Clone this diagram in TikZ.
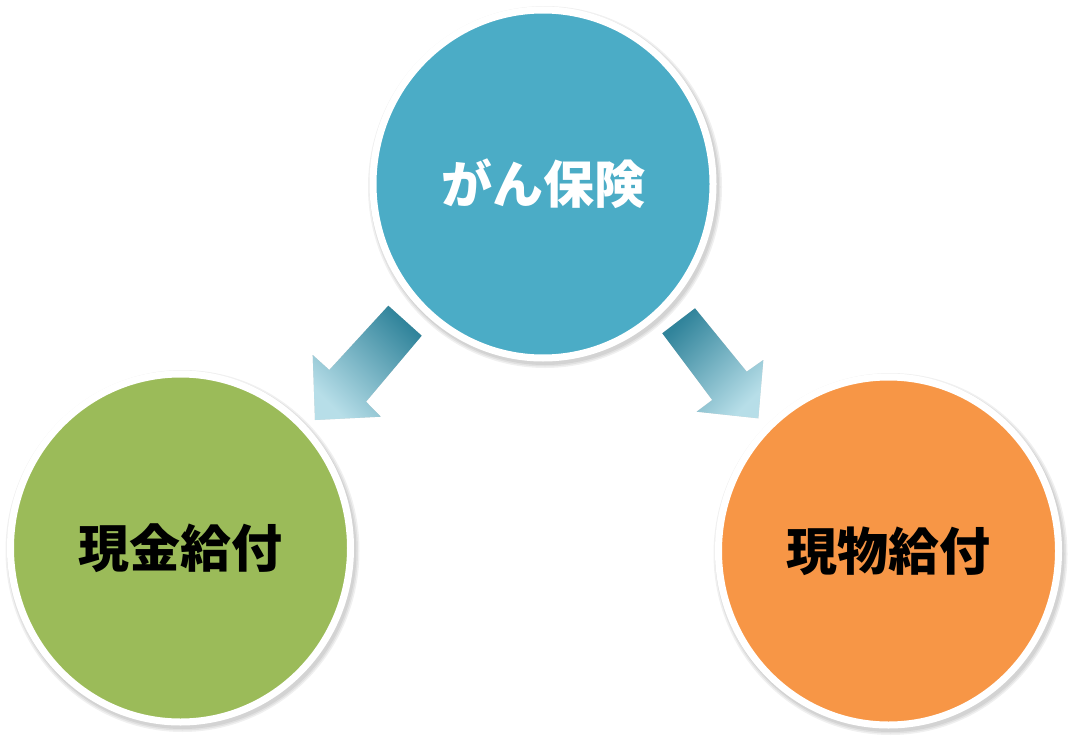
\documentclass[tikz,border=0pt]{standalone}
\usepackage{fontspec}
\newfontfamily\jp{Noto Sans CJK JP}
\usetikzlibrary{shapes.geometric}
\definecolor{aqua}{HTML}{4BACC6}
\definecolor{leaf}{HTML}{9BBB59}
\definecolor{tang}{HTML}{F79646}
\definecolor{arrdark}{HTML}{31849B}
\definecolor{arrlight}{HTML}{B7DEE8}
\tikzset{
  bubble/.style={ellipse, draw=white, line width=7pt, minimum width=340pt, minimum height=348pt, inner sep=0pt,
    font=\jp\bfseries\fontsize{51}{51}\selectfont},
  softshadow/.style={fill=black, fill opacity=0.06, draw=none},
  blockarrow/.style={draw=none},
  arrshadow/.style={fill=black, fill opacity=0.18, draw=none},
}
\begin{document}
\begin{tikzpicture}[x=1pt,y=-1pt]
\fill[white] (0,0) rectangle (1070,741);
\useasboundingbox (0,0) rectangle (1070,741);
% circle shadows
\foreach \cx/\cy in {543/184, 180.5/548, 888.5/551}{
  \foreach \d in {0,1.5,3}{
    \fill[softshadow] (\cx+2,\cy+3) ellipse [x radius=174+\d, y radius=178+\d];
  }
}
% circles
\node[bubble, fill=aqua, text=white] (top) at (543,184) {\raisebox{-3pt}{がん保険}};
\node[bubble, fill=leaf, text=black] (left) at (180.5,548) {\raisebox{-3pt}{現金給付}};
\node[bubble, fill=tang, text=black] (right) at (888.5,551) {\raisebox{-3pt}{現物給付}};
% left block arrow
\coordinate (la1) at (388.3,305.7);
\coordinate (la2) at (421.7,335.7);
\coordinate (la3) at (366,401.7);
\coordinate (la4) at (380.7,416.7);
\coordinate (la5) at (315,420);
\coordinate (la6) at (312.7,355);
\coordinate (la7) at (329.3,370);
\fill[arrshadow, shift={(1.5pt,-2.5pt)}] (la1) -- (la2) -- (la3) -- (la4) -- (la5) -- (la6) -- (la7) -- cycle;
\shade[blockarrow, top color=arrdark, bottom color=arrlight, shading angle=-45] (la1) -- (la2) -- (la3) -- (la4) -- (la5) -- (la6) -- (la7) -- cycle;
% right block arrow
\coordinate (ra1) at (662.3,333.3);
\coordinate (ra2) at (695,308.3);
\coordinate (ra3) at (746.7,371.7);
\coordinate (ra4) at (763.3,360);
\coordinate (ra5) at (758.3,418.3);
\coordinate (ra6) at (696.7,411.7);
\coordinate (ra7) at (712.3,400);
\fill[arrshadow, shift={(1.5pt,-2.5pt)}] (ra1) -- (ra2) -- (ra3) -- (ra4) -- (ra5) -- (ra6) -- (ra7) -- cycle;
\shade[blockarrow, top color=arrdark, bottom color=arrlight, shading angle=45] (ra1) -- (ra2) -- (ra3) -- (ra4) -- (ra5) -- (ra6) -- (ra7) -- cycle;
\end{tikzpicture}
\end{document}
